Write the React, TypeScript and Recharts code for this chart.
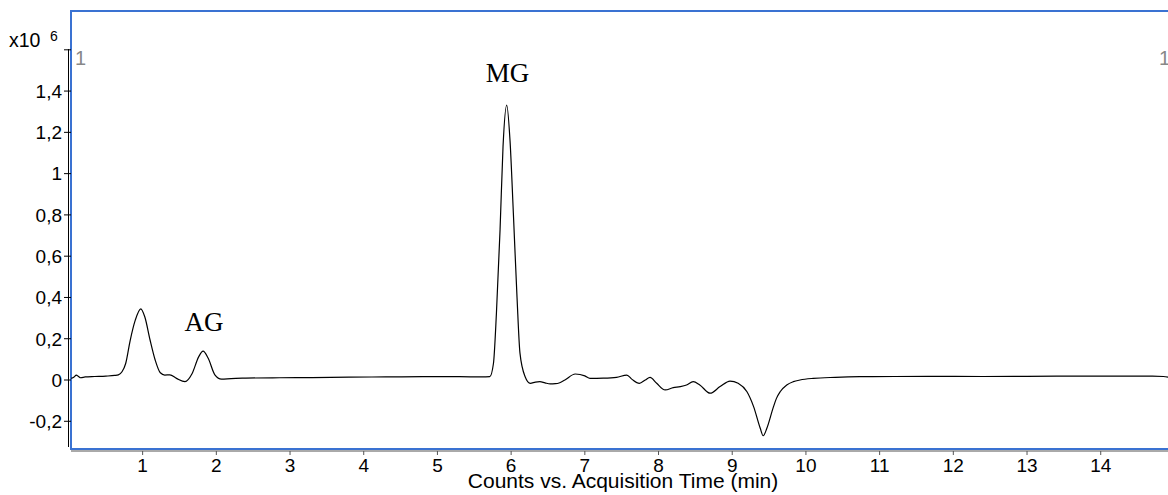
import React from 'react';
import { LineChart, Line, XAxis, YAxis, ReferenceArea } from 'recharts';

// Acquisition time (min)
const times = [
  0.03, 0.07, 0.10, 0.13, 0.16, 0.22, 0.35, 0.50, 0.62, 0.67, 0.72, 0.77, 0.83, 0.90, 0.975,
  1.03, 1.10, 1.17, 1.24, 1.30, 1.37, 1.46, 1.575, 1.67, 1.76, 1.82, 1.89, 1.98, 2.07, 2.20,
  2.40, 2.86, 3.3, 3.8, 4.3, 4.8, 5.3, 5.60, 5.71, 5.76, 5.80, 5.85, 5.89, 5.94, 5.985,
  6.03, 6.08, 6.12, 6.19, 6.26, 6.33, 6.39, 6.46, 6.53, 6.60, 6.66, 6.73, 6.87, 7.00, 7.07,
  7.25, 7.43, 7.57, 7.64, 7.74, 7.82, 7.885, 7.975, 8.09, 8.20, 8.295, 8.38, 8.47, 8.56, 8.70,
  8.835, 8.97, 9.08, 9.20, 9.29, 9.38, 9.42, 9.47, 9.56, 9.60, 9.65, 9.74, 9.83, 9.92, 10.1,
  10.4, 10.73, 11.2, 11.8, 12.4, 13.0, 13.6, 14.2, 14.7, 14.85, 14.94,
];

// Counts (x10^6)
const counts = [
  0.008, 0.015, 0.024, 0.017, 0.011, 0.015, 0.017, 0.019, 0.022, 0.025, 0.040, 0.080, 0.190, 0.290, 0.345,
  0.305, 0.195, 0.097, 0.035, 0.024, 0.025, 0.008, -0.008, 0.030, 0.112, 0.140, 0.105, 0.025, 0.004, 0.007,
  0.009, 0.011, 0.012, 0.014, 0.015, 0.016, 0.016, 0.015, 0.016, 0.080, 0.320, 0.730, 1.130, 1.332, 1.160,
  0.810, 0.400, 0.130, 0.016, -0.016, -0.010, -0.008, -0.014, -0.019, -0.018, -0.013, 0.000, 0.029, 0.020, 0.008,
  0.009, 0.013, 0.024, 0.003, -0.016, 0.000, 0.013, -0.016, -0.048, -0.037, -0.032, -0.024, -0.008, -0.024, -0.064,
  -0.032, -0.005, -0.016, -0.057, -0.129, -0.234, -0.270, -0.234, -0.129, -0.089, -0.057, -0.024, -0.008, 0.000, 0.008,
  0.013, 0.016, 0.017, 0.018, 0.017, 0.018, 0.019, 0.019, 0.019, 0.017, 0.012,
];

const xTicks = [1, 2, 3, 4, 5, 6, 7, 8, 9, 10, 11, 12, 13, 14];
const yTicks = [-0.2, 0, 0.2, 0.4, 0.6, 0.8, 1, 1.2, 1.4, 1.6];
const yTickLabels = ['-0,2', '0', '0,2', '0,4', '0,6', '0,8', '1', '1,2', '1,4', ''];

const peakLabels = ['MG', 'AG'];
const axisTitle = 'Counts vs. Acquisition Time (min)';
const scaleLabel = 'x10';
const scaleExp = '6';
const traceLabel = '1';

const data = times.map((t, i) => ({ t, v: counts[i] }));

const FONT = 'Arial, "Liberation Sans", Helvetica, sans-serif';
const SERIF = '"Times New Roman", "Liberation Serif", serif';
const BLUE = '#3a72d2';
const TICK_FS = 19;

const XTick = (props: any) => {
  const { x, y, payload } = props;
  return (
    <text x={x} y={y} dy="0.7em" textAnchor="middle" fontSize={TICK_FS} fontFamily={FONT} fill="#000">
      {String(payload.value)}
    </text>
  );
};

const YTick = (props: any) => {
  const { x, y, payload } = props;
  const i = yTicks.findIndex((t) => Math.abs(t - payload.value) < 1e-9);
  const label = i >= 0 ? yTickLabels[i] : '';
  return (
    <text x={x} y={y} dy="0.36em" textAnchor="end" fontSize={TICK_FS} fontFamily={FONT} fill="#000">
      {label}
    </text>
  );
};

export default function App() {
  return (
    <div style={{ position: 'absolute', left: 0, top: 0, width: 1168, height: 495, overflow: 'hidden', background: '#fff', fontFamily: FONT }}>
      <LineChart width={1170} height={495} data={data} margin={{ top: 11, right: 0, bottom: 0, left: 0 }}>
        <XAxis
          dataKey="t"
          type="number"
          domain={[0.028, 14.94]}
          allowDataOverflow
          ticks={xTicks}
          interval={0}
          height={44}
          tickSize={4}
          tickMargin={4}
          stroke="#555"
          axisLine={{ stroke: '#555', strokeWidth: 1 }}
          tickLine={{ stroke: '#555' }}
          tick={<XTick />}
        />
        <YAxis
          type="number"
          domain={[-0.344, 1.788]}
          allowDataOverflow
          ticks={yTicks}
          interval={0}
          width={71}
          tickSize={7}
          tickMargin={2}
          axisLine={false}
          tickLine={{ stroke: '#000' }}
          tick={<YTick />}
        />
        <ReferenceArea
          x1={0.028}
          x2={14.94}
          y1={-0.334}
          y2={1.788}
          fill="none"
          fillOpacity={0}
          stroke={BLUE}
          strokeWidth={2}
          ifOverflow="visible"
        />
        <Line
          type="monotone"
          dataKey="v"
          stroke="#000"
          strokeWidth={1.2}
          dot={false}
          isAnimationActive={false}
        />
      </LineChart>
      <svg width={1168} height={495} style={{ position: 'absolute', left: 0, top: 0, pointerEvents: 'none' }}>
        <line x1={68.5} y1={49} x2={68.5} y2={447} stroke="#000" strokeWidth={1} />
        <text x={9} y={47} fontSize={19.5} fontFamily={FONT} fill="#000">{scaleLabel}</text>
        <text x={50} y={41} fontSize={14} fontFamily={FONT} fill="#000">{scaleExp}</text>
        <text x={75} y={65} fontSize={20} fontFamily={FONT} fill="#888">{traceLabel}</text>
        <text x={1159} y={65} fontSize={20} fontFamily={FONT} fill="#888">{traceLabel}</text>
        <text x={507.5} y={82} fontSize={27} fontFamily={SERIF} fill="#000" textAnchor="middle">{peakLabels[0]}</text>
        <text x={204} y={331} fontSize={27} fontFamily={SERIF} fill="#000" textAnchor="middle">{peakLabels[1]}</text>
        <text x={623} y={488} fontSize={21} fontFamily={FONT} fill="#000" textAnchor="middle">{axisTitle}</text>
      </svg>
    </div>
  );
}
